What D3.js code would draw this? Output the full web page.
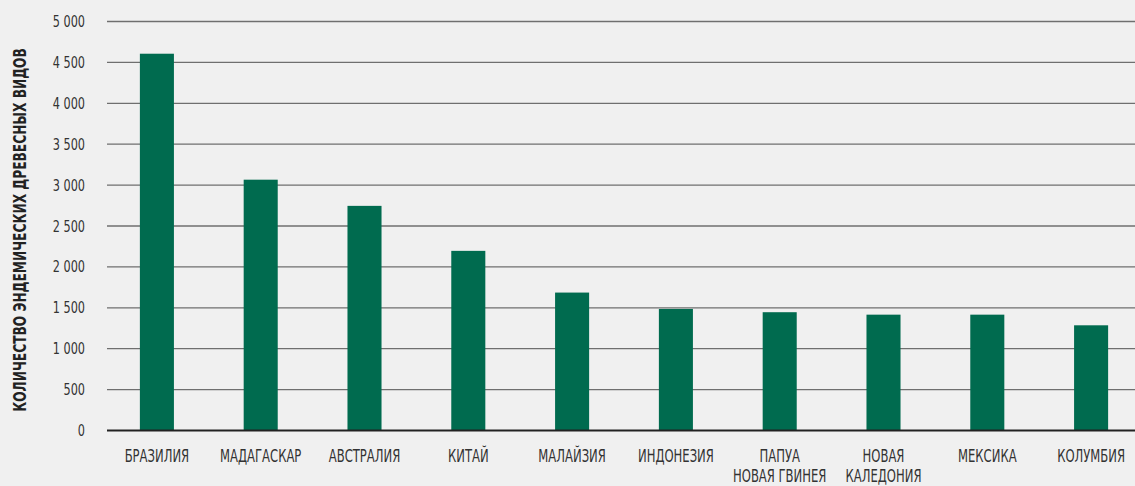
<!DOCTYPE html>
<html><head><meta charset="utf-8">
<script src="https://cdn.jsdelivr.net/npm/d3@7"></script>
<style>
html,body{margin:0;padding:0;background:#f0f0f0;}
svg{display:block;}
text{font-family:"Liberation Sans Narrow","DejaVu Sans Condensed","Roboto Condensed",sans-serif;fill:#333;}
</style></head>
<body>
<svg id="chart" width="1135" height="486"></svg>
<script>
const categories = ["БРАЗИЛИЯ","МАДАГАСКАР","АВСТРАЛИЯ","КИТАЙ","МАЛАЙЗИЯ","ИНДОНЕЗИЯ","ПАПУА|НОВАЯ ГВИНЕЯ","НОВАЯ|КАЛЕДОНИЯ","МЕКСИКА","КОЛУМБИЯ"];
const values = [4600,3060,2740,2190,1680,1480,1440,1410,1410,1280];
const yTicks = [0,500,1000,1500,2000,2500,3000,3500,4000,4500,5000];
const yTickLabels = ["0","500","1 000","1 500","2 000","2 500","3 000","3 500","4 000","4 500","5 000"];
const yTitle = "КОЛИЧЕСТВО ЭНДЕМИЧЕСКИХ ДРЕВЕСНЫХ ВИДОВ";

const svg = d3.select("#chart");
const x = d3.scaleBand().domain(categories).range([105,1143]).paddingInner(0.672).paddingOuter(0.336);
const y = d3.scaleLinear().domain([0,5000]).range([430,21]);
const SX = 0.76; // condensed look

// gridlines
svg.append("g").selectAll("line").data(yTicks.filter(d=>d>0)).join("line")
  .attr("x1",107).attr("x2",1135)
  .attr("y1",d=>y(d)+0.5).attr("y2",d=>y(d)+0.5)
  .attr("stroke","#6f6f6f").attr("stroke-width",1.3);

// bars
svg.append("g").selectAll("rect").data(values).join("rect")
  .attr("x",(d,i)=>x(categories[i]))
  .attr("width",x.bandwidth())
  .attr("y",d=>y(d))
  .attr("height",d=>y(0)-y(d))
  .attr("fill","#006b4f");

// zero line
svg.append("line").attr("x1",107).attr("x2",1135)
  .attr("y1",y(0)+0.5).attr("y2",y(0)+0.5)
  .attr("stroke","#222").attr("stroke-width",2.2);

// y tick labels
svg.append("g").selectAll("text").data(yTicks).join("text")
  .attr("transform",d=>`translate(85,${y(d)+6}) scale(${SX},1)`)
  .attr("text-anchor","end").attr("font-size",16.5)
  .text((d,i)=>yTickLabels[i]);

// x labels
const xl = svg.append("g").selectAll("text").data(categories).join("text")
  .attr("text-anchor","middle").attr("font-size",17)
  .attr("transform",d=>`translate(${x(d)+x.bandwidth()/2},462) scale(${SX},1)`);
xl.each(function(d){
  const parts=d.split("|");
  const t=d3.select(this);
  parts.forEach((p,k)=>t.append("tspan").attr("x",0).attr("dy",k===0?0:20).text(p));
});

// y title
svg.append("text").attr("transform",`translate(26,230) rotate(-90) scale(0.8,1)`)
  .attr("text-anchor","middle").attr("font-size",17).attr("font-weight","bold")
  .style("fill","#222")
  .text(yTitle);
</script>
</body></html>
